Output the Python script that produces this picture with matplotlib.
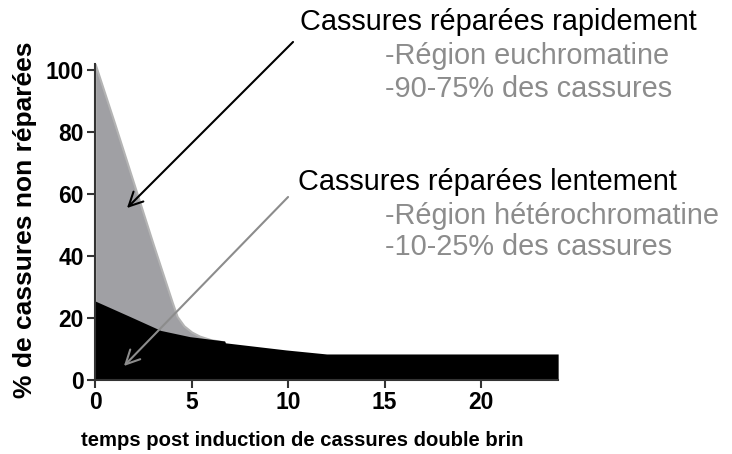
import matplotlib
matplotlib.use("Agg")
import matplotlib.pyplot as plt

plt.rcParams['font.family'] = ['Liberation Sans', 'DejaVu Sans']

# fast-repair curve (gray) and slow-repair curve (black)
t_fast = [0, 1, 2, 3, 4, 4.25, 4.6, 5.0, 5.4, 6.0, 6.7]
y_fast = [102, 83, 63.5, 44, 25, 20.5, 17.5, 15.5, 14.2, 13.0, 12.3]

t_slow = [0, 1.8, 3.4, 4.9, 6.7, 6.75, 9.9, 12, 24]
y_slow = [25.5, 20.5, 16, 14, 12.6, 12.0, 9.7, 8.4, 8.4]

fig = plt.figure(figsize=(7.32, 4.54), dpi=100)
ax = fig.add_axes([0.13, 0.163, 0.6325, 0.696])

ax.fill_between(t_fast, y_fast, 0, color='#a0a0a4', edgecolor='#b4b4b4', linewidth=1.5)
ax.fill_between(t_slow, y_slow, 0, color='black', linewidth=0)

ax.set_xlim(0, 24)
ax.set_ylim(0, 102)
ax.set_xticks([0, 5, 10, 15, 20])
ax.set_yticks([0, 20, 40, 60, 80, 100])
for s in ['top', 'right']:
    ax.spines[s].set_visible(False)
for s in ['left', 'bottom']:
    ax.spines[s].set_linewidth(1.5)
    ax.spines[s].set_color('#333333')
ax.tick_params(direction='out', length=6, width=1.5, labelsize=16.5, color='#333333', pad=2)
for lab in ax.get_xticklabels() + ax.get_yticklabels():
    lab.set_fontweight('bold')

ax.set_ylabel('% de cassures non réparées', fontsize=19, fontweight='bold')
ax.yaxis.set_label_coords(-0.125, 0.506)
ax.set_xlabel('temps post induction de cassures double brin', fontsize=14.6, fontweight='bold')
ax.xaxis.set_label_coords(0.447, -0.16)

# annotations
fs = 20.8
fig.text(300/732, 1 - 22/454, 'Cassures réparées rapidement', fontsize=fs, va='center', ha='left')
fig.text(385/732, 1 - 56/454, '-Région euchromatine', fontsize=fs, va='center', ha='left', color='#8c8c8c')
fig.text(385/732, 1 - 89/454, '-90-75% des cassures', fontsize=fs, va='center', ha='left', color='#8c8c8c')
fig.text(298/732, 1 - 182/454, 'Cassures réparées lentement', fontsize=fs, va='center', ha='left')
fig.text(385/732, 1 - 216/454, '-Région hétérochromatine', fontsize=fs, va='center', ha='left', color='#8c8c8c')
fig.text(385/732, 1 - 247/454, '-10-25% des cassures', fontsize=fs, va='center', ha='left', color='#8c8c8c')

ax.annotate('', xy=(125/732, 1 - 210/454), xycoords='figure fraction',
            xytext=(295/732, 1 - 40/454), textcoords='figure fraction',
            arrowprops=dict(arrowstyle='->', color='black', lw=1.5, mutation_scale=25))
ax.annotate('', xy=(122/732, 1 - 368/454), xycoords='figure fraction',
            xytext=(290/732, 1 - 195/454), textcoords='figure fraction',
            arrowprops=dict(arrowstyle='->', color='#8c8c8c', lw=1.5, mutation_scale=25))

fig.savefig('out.png', dpi=100)
